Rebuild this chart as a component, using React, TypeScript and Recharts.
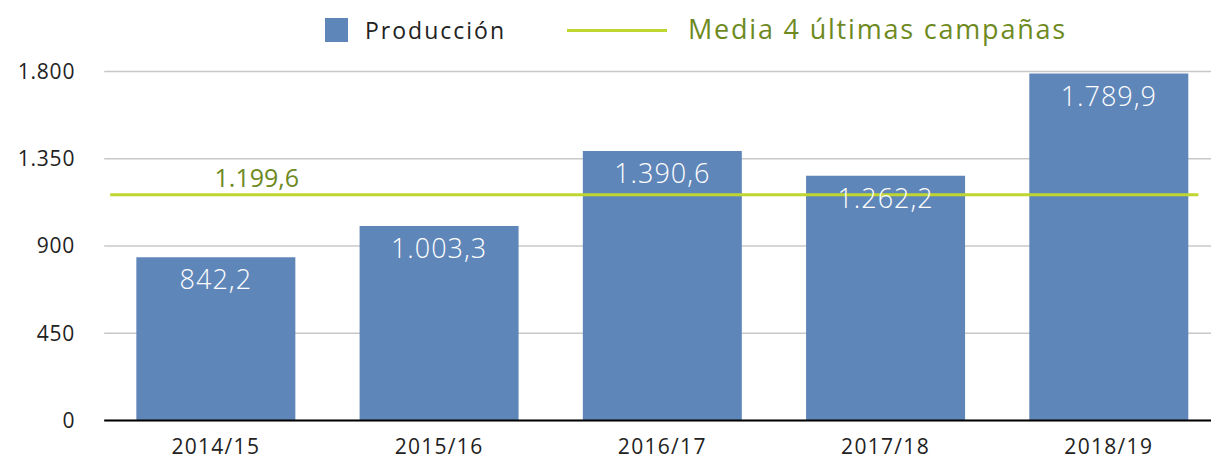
import React from 'react';
import {
  ComposedChart,
  Bar,
  XAxis,
  YAxis,
  CartesianGrid,
  ReferenceLine,
  ReferenceDot,
  LabelList,
} from 'recharts';

const categories = ['2014/15', '2015/16', '2016/17', '2017/18', '2018/19'];
const production = [842.2, 1003.3, 1390.6, 1262.2, 1789.9];
const productionLabels = ['842,2', '1.003,3', '1.390,6', '1.262,2', '1.789,9'];
const yTicks = [0, 450, 900, 1350, 1800];
const yTickLabels = ['0', '450', '900', '1.350', '1.800'];
const meanLevel = 1164;
const meanLabel = '1.199,6';
const seriesNames = ['Producción', 'Media 4 últimas campañas'];

const FONT = '"Open Sans", "Noto Sans", sans-serif';
const BAR_COLOR = '#5F86B9';
const LINE_COLOR = '#BFD630';
const OLIVE = '#6E8A1F';

const data = categories.map((c, i) => ({
  category: c,
  production: production[i],
  label: productionLabels[i],
}));

const MeanLabel = (props: any) => {
  const vb = props.viewBox || {};
  const cx = (vb.x ?? 0) + (vb.width ?? 0) / 2;
  const cy = (vb.y ?? 0) + (vb.height ?? 0) / 2;
  return (
    <text x={cx + 41} y={cy - 8} textAnchor="middle" fill={OLIVE} fontSize={25} fontFamily={FONT}>
      {meanLabel}
    </text>
  );
};

const MeanLineShape = (p: any) => (
  <line x1={p.x1 + 6} y1={p.y1} x2={p.x2 - 22} y2={p.y2} stroke={LINE_COLOR} strokeWidth={3} />
);

export default function App() {
  return (
    <div style={{ position: 'absolute', left: 0, top: 0, width: 1211, height: 461, overflow: 'hidden', background: '#fff' }}>
      <ComposedChart
        width={1240}
        height={461}
        data={data}
        margin={{ top: 71.5, right: 19.6, bottom: 0, left: 0 }}
        barCategoryGap="14.4%"
        style={{ fontFamily: FONT }}
      >
        <CartesianGrid vertical={false} stroke="#C8C8C8" strokeWidth={1.5} />
        <XAxis
          dataKey="category"
          height={40.5}
          tickLine={false}
          axisLine={{ stroke: '#000', strokeWidth: 2 }}
          tick={{ fontSize: 21, fill: '#222', fontFamily: FONT, letterSpacing: 1.3 }}
          tickMargin={13}
        />
        <YAxis
          width={104.2}
          domain={[0, 1800]}
          ticks={yTicks}
          tickFormatter={(v: number) => yTickLabels[yTicks.indexOf(v)]}
          axisLine={false}
          tickLine={false}
          tickMargin={23}
          tick={{ fontSize: 21, fill: '#222', fontFamily: FONT, letterSpacing: 0.8 }}
        />
        <Bar dataKey="production" fill={BAR_COLOR} isAnimationActive={false}>
          <LabelList dataKey="label" position="insideTop" offset={13} fill="#fff" fontSize={27} fontWeight={300} fontFamily={FONT} letterSpacing={1} />
        </Bar>
        <ReferenceLine y={meanLevel} stroke={LINE_COLOR} strokeWidth={3} shape={MeanLineShape} />
        <ReferenceDot x={categories[0]} y={meanLevel} r={0} stroke="none" fill="none" label={<MeanLabel />} />
      </ComposedChart>
      <div style={{ position: 'absolute', left: 325, top: 17, display: 'flex', alignItems: 'center', fontFamily: FONT, height: 26 }}>
        <div style={{ width: 23, height: 24, background: BAR_COLOR }} />
        <span style={{ marginLeft: 17, fontSize: 23, letterSpacing: 2, color: '#222', whiteSpace: 'nowrap' }}>{seriesNames[0]}</span>
        <div style={{ position: 'absolute', left: 242, top: 12, width: 100, height: 3, background: LINE_COLOR }} />
        <span style={{ position: 'absolute', left: 363, top: -7, fontSize: 27, letterSpacing: 1.8, color: OLIVE, whiteSpace: 'nowrap' }}>{seriesNames[1]}</span>
      </div>
    </div>
  );
}
